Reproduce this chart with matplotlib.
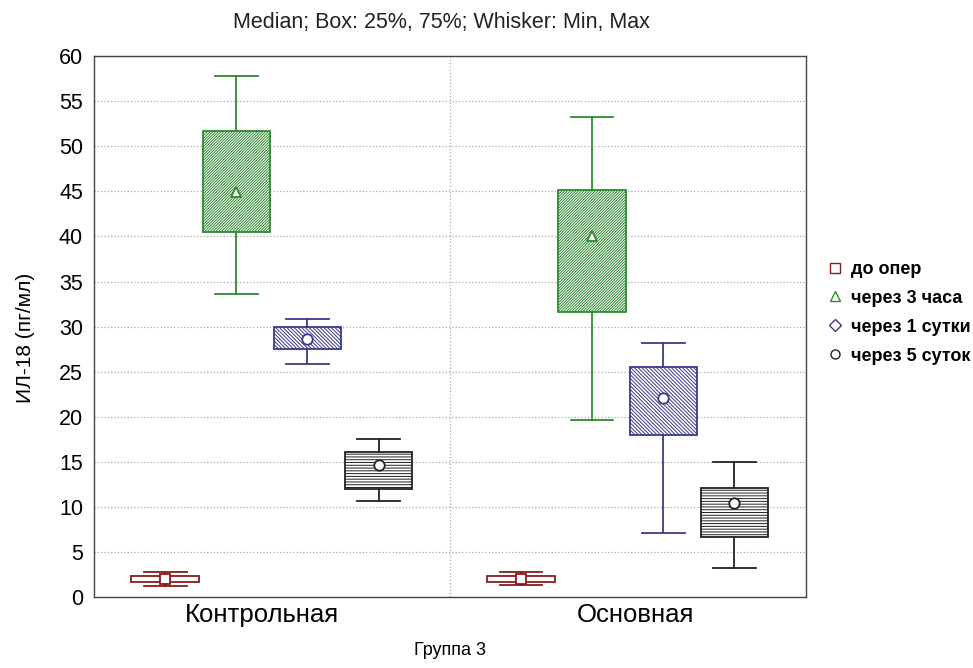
import numpy as np
import matplotlib.pyplot as plt
from matplotlib.lines import Line2D
from matplotlib.transforms import ScaledTranslation

plt.rcParams['font.family'] = ['Liberation Sans', 'DejaVu Sans']
plt.rcParams['hatch.linewidth'] = 0.7

groups = ['Контрольная', 'Основная']
series = ['до опер', 'через 3 часа', 'через 1 сутки', 'через 5 суток']

# min, q1, median, q3, max for each series, one row per group
do_oper = [[1.25, 1.7, 2.0, 2.3, 2.8],
           [1.3, 1.7, 2.0, 2.3, 2.8]]
cherez_3ch = [[33.6, 40.5, 44.9, 51.7, 57.8],
              [19.6, 31.6, 40.0, 45.1, 53.2]]
cherez_1s = [[25.9, 27.5, 28.6, 30.0, 30.8],
             [7.1, 18.0, 22.1, 25.5, 28.2]]
cherez_5s = [[10.7, 12.0, 14.7, 16.1, 17.5],
             [3.2, 6.7, 10.4, 12.1, 15.0]]

colors = ['#8b1a1a', '#2e8b2e', '#3a3a8c', '#222222']
hatches = ['', '/' * 12, '\\' * 9, '-' * 6]
markers = ['s', '^', 'o', 'o']
legend_markers = ['s', '^', 'D', 'o']
offsets = [-0.3, -0.1, 0.1, 0.3]

fig = plt.figure(figsize=(9.73, 6.68), dpi=100)
ax = fig.add_axes([0.0966, 0.106, 0.7314, 0.81])

for k, data in enumerate([do_oper, cherez_3ch, cherez_1s, cherez_5s]):
    stats = []
    for g, (lo, q1, med, q3, hi) in enumerate(data):
        stats.append({'whislo': lo, 'q1': q1, 'med': med, 'q3': q3, 'whishi': hi})
    pos = [g + offsets[k] for g in range(len(groups))]
    c = colors[k]
    bp = ax.bxp(stats, positions=pos, widths=0.19, capwidths=0.12,
                showfliers=False, patch_artist=True, manage_ticks=False,
                boxprops=dict(facecolor='white', edgecolor=c, linewidth=1.3),
                whiskerprops=dict(color=c, linewidth=1.3),
                capprops=dict(color=c, linewidth=1.3),
                medianprops=dict(linestyle='none'))
    for patch in bp['boxes']:
        patch.set_hatch(hatches[k])
    meds = [s['med'] for s in stats]
    ax.plot(pos, meds, linestyle='none', marker=markers[k], markersize=7.5,
            markerfacecolor='white', markeredgecolor=c, markeredgewidth=1.3,
            zorder=5)

ax.set_xlim(-0.5, 1.5)
ax.set_ylim(0, 60)
ax.set_yticks(np.arange(0, 61, 5))
ax.set_xticks(range(len(groups)))
ax.set_xticklabels(groups, fontsize=18.5)
ax.tick_params(axis='y', labelsize=15.5, length=0, pad=8)
ax.tick_params(axis='x', length=0, pad=4)
# group names sit a little off the box centres
for lab, dx in zip(ax.get_xticklabels(), [-0.10, 0.08]):
    lab.set_transform(lab.get_transform() + ScaledTranslation(dx, 0, fig.dpi_scale_trans))
ax.yaxis.grid(True, linestyle=':', color='#aaaaaa', linewidth=0.9)
ax.axvline(0.5, linestyle=':', color='#aaaaaa', linewidth=0.9, zorder=0)
ax.set_axisbelow(True)
for sp in ax.spines.values():
    sp.set_color('#444444')
    sp.set_linewidth(1.0)

ax.set_ylabel('ИЛ-18 (пг/мл)', fontsize=15)
ax.yaxis.set_label_coords(-0.083, 0.48)
ax.set_xlabel('Группа 3', fontsize=13)
ax.xaxis.set_label_coords(0.5, -0.082)
ax.set_title('Median; Box: 25%, 75%; Whisker: Min, Max', fontsize=15.5, pad=20.5,
             color='#222222', x=0.488)

handles = [Line2D([], [], linestyle='none', marker=legend_markers[k], markersize=6.5,
                  markerfacecolor='white', markeredgecolor=colors[k],
                  markeredgewidth=1.0) for k in range(len(series))]
leg = ax.legend(handles, series, loc='upper left', bbox_to_anchor=(1.0, 0.655),
                frameon=False, prop={'weight': 'bold', 'size': 13},
                handletextpad=0.3, labelspacing=0.66, handlelength=1.2,
                borderaxespad=0.6)

fig.savefig('out.png', dpi=100)
